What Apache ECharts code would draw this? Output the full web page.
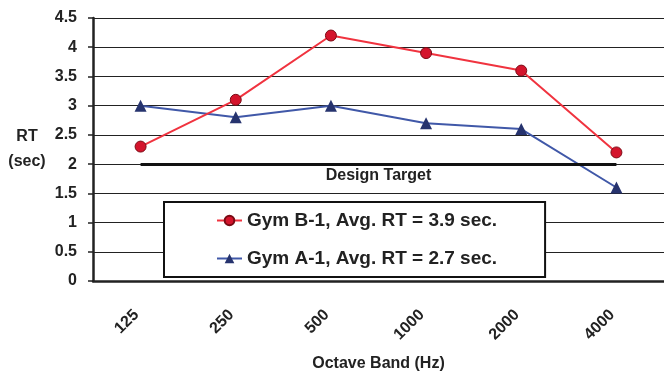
<!DOCTYPE html>
<html lang="en">
<head>
    <meta charset="UTF-8">
    <title>RT by Octave Band</title>
    <script src="https://cdn.jsdelivr.net/npm/echarts@6/dist/echarts.min.js"></script>
    <style>
        body { margin: 0; background: #fff; }
        #chart { width: 664px; height: 377px; }
    </style>
</head>
<body>
    <div id="chart"></div>
    <script>
        // octave bands (Hz)
        const bands = ['125', '250', '500', '1000', '2000', '4000'];
        // reverberation time, seconds
        const gymB1 = [2.3, 3.1, 4.2, 3.9, 3.6, 2.2];
        const gymA1 = [3.0, 2.8, 3.0, 2.7, 2.6, 1.6];
        const designTarget = 2;
        const nameB1 = 'Gym B-1, Avg. RT = 3.9 sec.';
        const nameA1 = 'Gym A-1, Avg. RT = 2.7 sec.';

        const font = 'Arial, "Liberation Sans", sans-serif';
        const chart = echarts.init(document.getElementById('chart'));

        chart.setOption({
            animation: false,
            textStyle: { fontFamily: font },
            grid: { left: 93, right: -5, top: 18, bottom: 92 },
            legend: {
                data: [nameB1, nameA1],
                orient: 'vertical',
                left: 164,
                top: 202,
                itemWidth: 25,
                itemHeight: 12,
                itemGap: 19,
                padding: [9, 48, 9, 52],
                backgroundColor: '#fff',
                borderColor: '#111',
                borderWidth: 2,
                textStyle: { fontSize: 19, fontWeight: 'bold', color: '#222' }
            },
            xAxis: {
                type: 'category',
                data: bands,
                name: 'Octave Band (Hz)',
                nameLocation: 'middle',
                nameGap: 75,
                nameTextStyle: { fontSize: 16, fontWeight: 'bold', color: '#222' },
                axisLine: { lineStyle: { color: '#222', width: 2.5 } },
                axisTick: { length: 5, lineStyle: { color: '#222', width: 1.5 } },
                axisLabel: { rotate: 45, margin: 27, padding: [0, 6, 0, 0], fontSize: 16, fontWeight: 'bold', color: '#222' }
            },
            yAxis: {
                type: 'value',
                min: 0,
                max: 4.5,
                interval: 0.5,
                name: 'RT\n(sec)',
                nameLocation: 'middle',
                nameRotate: 0,
                nameGap: 66,
                nameTextStyle: { fontSize: 16, fontWeight: 'bold', color: '#222', align: 'center', verticalAlign: 'middle', lineHeight: 25 },
                axisLine: { show: true, lineStyle: { color: '#222', width: 2.5 } },
                axisTick: { show: true, length: 5, lineStyle: { color: '#222', width: 1.5 } },
                axisLabel: { margin: 16, fontSize: 16, fontWeight: 'bold', color: '#222' },
                splitLine: { lineStyle: { color: '#222', width: 1.2 } }
            },
            series: [
                {
                    name: 'Design Target',
                    type: 'line',
                    data: [],
                    markLine: {
                        silent: true,
                        symbol: 'none',
                        lineStyle: { color: '#111', width: 3, type: 'solid' },
                        label: {
                            show: true,
                            formatter: 'Design Target',
                            position: 'insideMiddleBottom',
                            distance: 3,
                            fontSize: 16,
                            fontWeight: 'bold',
                            color: '#222'
                        },
                        data: [[{ coord: [bands[0], designTarget] }, { coord: [bands[bands.length - 1], designTarget] }]]
                    }
                },
                {
                    name: nameA1,
                    type: 'line',
                    data: gymA1,
                    symbol: 'triangle',
                    symbolSize: 12,
                    itemStyle: { color: '#26336e' },
                    lineStyle: { color: '#4058a8', width: 2 }
                },
                {
                    name: nameB1,
                    type: 'line',
                    data: gymB1,
                    symbol: 'circle',
                    symbolSize: 11,
                    itemStyle: { color: '#d4142c', borderColor: '#7a0a14', borderWidth: 1 },
                    lineStyle: { color: '#f0333f', width: 2 }
                }
            ]
        });
    </script>
</body>
</html>
